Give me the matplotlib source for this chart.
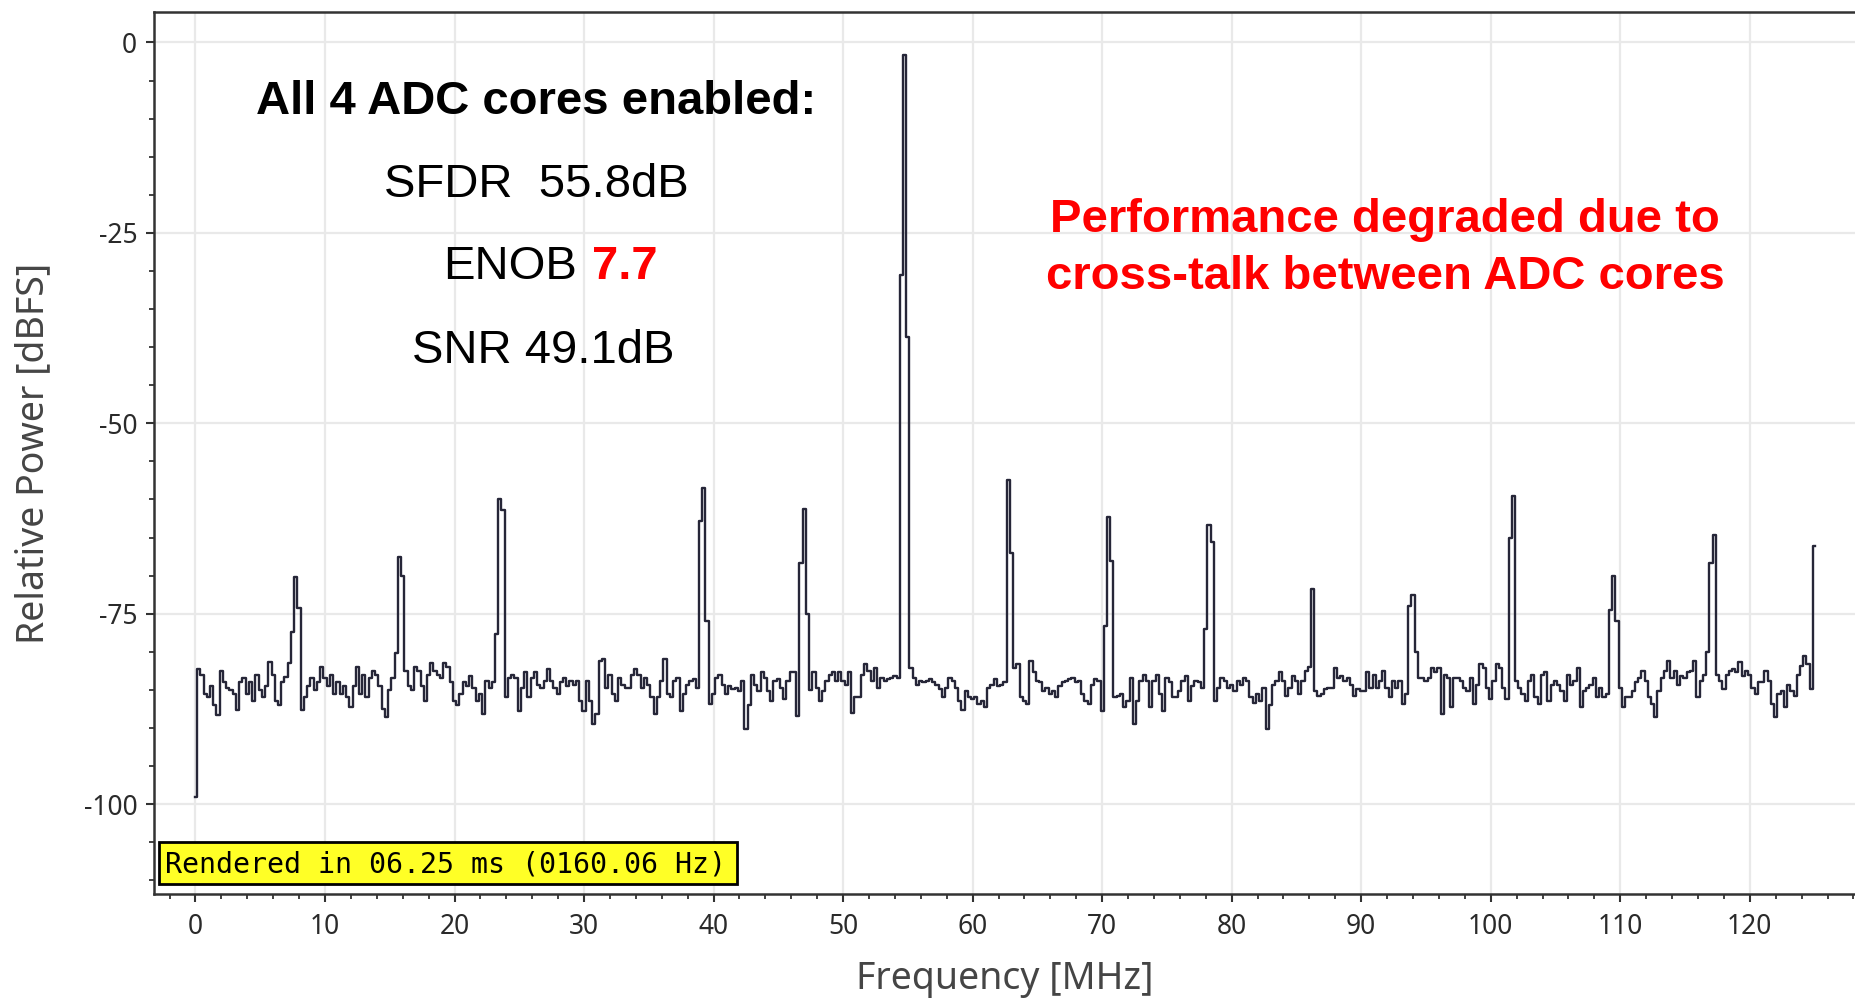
import numpy as np
import matplotlib.pyplot as plt
from matplotlib.patches import Rectangle
from matplotlib.ticker import MultipleLocator

plt.rcParams['axes.unicode_minus'] = False

# FFT bin spacing of the spectrum trace (MHz)
freq_step = 0.25

# relative power per bin [dBFS]
power_0_25 = [
    -99.0, -82.3, -83.0, -85.5, -86.0, -84.5, -87.0, -88.3, -82.5, -84.0,
    -84.8, -85.0, -85.6, -87.7, -84.0, -83.5, -85.5, -84.0, -86.5, -83.0,
    -85.0, -86.0, -84.5, -81.3, -83.0, -86.5, -87.0, -84.0, -83.3, -81.5,
    -77.4, -70.2, -74.2, -87.7, -86.0, -84.5, -83.5, -85.0, -84.0, -82.0,
    -83.5, -84.5, -83.0, -85.5, -84.0, -85.5, -84.5, -86.0, -87.3, -84.5,
    -82.0, -85.5, -83.0, -86.0, -83.5, -82.5, -83.0, -84.5, -87.5, -88.5,
    -85.0, -83.5, -80.1, -67.6, -70.0, -82.5, -84.5, -85.0, -82.0, -82.5,
    -84.5, -86.5, -83.0, -81.5, -82.5, -83.0, -83.5, -81.5, -82.0, -84.0,
    -86.5, -87.0, -85.5, -84.0, -84.5, -83.2, -84.7, -86.5, -85.6, -88.2,
    -83.8, -84.7, -84.0, -77.7, -59.9, -61.4, -86.0, -83.4, -83.0, -83.4,
]
power_25_50 = [
    -87.8, -84.7, -82.7, -86.0, -83.4, -82.7, -84.3, -84.7, -83.8, -82.3,
    -83.8, -84.7, -85.6, -84.0, -83.4, -84.5, -83.8, -84.3, -83.8, -86.5,
    -87.8, -83.8, -86.5, -89.5, -88.2, -81.2, -81.0, -84.7, -83.0, -85.6,
    -86.5, -83.4, -84.3, -84.7, -84.7, -83.0, -82.3, -83.0, -84.7, -83.4,
    -84.3, -86.0, -88.2, -86.0, -83.8, -81.0, -85.6, -86.0, -83.8, -83.4,
    -87.8, -85.6, -84.3, -83.8, -83.6, -84.7, -62.8, -58.5, -76.0, -86.9,
    -85.6, -83.4, -83.0, -84.3, -85.5, -84.5, -84.9, -84.7, -85.1, -83.8,
    -90.2, -87.0, -83.0, -84.3, -85.1, -82.7, -83.4, -85.1, -86.5, -83.8,
    -83.6, -84.7, -86.2, -83.8, -82.7, -82.7, -88.4, -68.3, -61.3, -75.0,
    -85.0, -82.7, -84.7, -86.5, -85.1, -83.8, -83.0, -82.7, -83.8, -82.7,
]
power_50_75 = [
    -83.8, -84.3, -82.7, -88.0, -86.0, -86.0, -83.0, -81.6, -82.5, -83.8,
    -82.1, -84.7, -83.4, -83.8, -83.6, -83.4, -83.2, -83.4, -30.5, -1.6,
    -38.7, -82.1, -83.4, -84.3, -83.8, -84.0, -83.8, -83.6, -84.0, -84.3,
    -84.9, -86.0, -84.7, -83.4, -83.8, -84.7, -86.5, -87.6, -85.1, -86.0,
    -86.2, -86.0, -86.9, -86.5, -87.3, -84.7, -84.3, -83.6, -84.5, -84.3,
    -84.0, -57.4, -67.0, -82.1, -81.6, -86.0, -86.5, -86.9, -81.2, -82.7,
    -83.8, -84.0, -85.1, -84.7, -85.6, -85.1, -86.0, -84.5, -84.0, -83.8,
    -83.6, -83.4, -84.0, -83.8, -85.6, -86.5, -86.9, -84.3, -83.6, -83.8,
    -87.8, -76.6, -62.3, -68.1, -86.0, -85.8, -85.6, -87.3, -86.5, -83.4,
    -89.5, -86.5, -83.8, -83.0, -83.8, -87.3, -83.8, -83.0, -85.6, -87.8,
]
power_75_100 = [
    -83.4, -84.0, -86.0, -86.0, -85.1, -83.8, -83.2, -86.5, -84.5, -83.8,
    -84.0, -84.7, -77.0, -63.3, -65.6, -86.5, -84.7, -83.4, -83.8, -84.7,
    -84.3, -85.1, -83.8, -84.3, -83.4, -83.8, -86.0, -86.7, -85.6, -86.5,
    -84.7, -90.2, -87.0, -84.3, -83.8, -82.7, -83.8, -85.8, -84.7, -83.2,
    -83.8, -85.6, -83.8, -82.5, -82.0, -71.7, -85.1, -85.8, -85.6, -84.9,
    -84.7, -84.7, -82.1, -83.4, -83.2, -83.8, -83.4, -84.3, -85.8, -84.9,
    -85.1, -85.1, -82.7, -84.7, -83.0, -84.7, -83.8, -82.5, -84.7, -86.0,
    -83.8, -84.7, -83.8, -86.9, -85.6, -74.0, -72.5, -80.0, -83.4, -83.4,
    -83.8, -83.4, -82.1, -82.7, -82.1, -88.2, -83.0, -83.4, -87.3, -83.4,
    -83.4, -83.8, -84.7, -85.1, -83.4, -86.9, -84.3, -81.6, -82.1, -84.7,
]
power_100_125 = [
    -86.2, -83.8, -81.6, -82.1, -84.7, -86.2, -65.1, -59.5, -83.8, -84.7,
    -85.6, -86.5, -83.8, -83.0, -86.0, -86.9, -83.0, -82.7, -86.5, -84.3,
    -83.8, -84.3, -85.1, -86.5, -83.0, -84.3, -83.8, -82.1, -87.3, -85.1,
    -84.7, -84.3, -83.4, -86.0, -84.7, -86.0, -85.6, -74.5, -70.0, -76.0,
    -84.7, -87.3, -86.0, -86.0, -85.1, -84.0, -83.4, -82.5, -83.8, -86.0,
    -86.9, -88.6, -85.1, -83.4, -82.5, -81.2, -83.4, -82.5, -84.3, -83.2,
    -83.4, -82.7, -82.5, -81.2, -86.0, -83.8, -83.0, -80.0, -68.4, -64.7,
    -83.0, -83.8, -84.9, -83.0, -82.5, -82.3, -82.7, -81.4, -83.2, -82.5,
    -83.0, -84.7, -85.6, -84.0, -84.0, -82.5, -83.8, -86.9, -88.6, -85.6,
    -85.1, -87.3, -84.3, -85.1, -85.8, -83.0, -81.9, -80.5, -81.6, -84.9,
    -66.1,
]

x_ticks = [0, 10, 20, 30, 40, 50, 60, 70, 80, 90, 100, 110, 120]
y_ticks = [0, -25, -50, -75, -100]
y_tick_labels = ['0', '-25', '-50', '-75', '-100']

power_db = np.array(power_0_25 + power_25_50 + power_50_75 + power_75_100 + power_100_125)
freq = np.arange(len(power_db)) * freq_step

W, H = 1856, 999
fig = plt.figure(figsize=(W / 100, H / 100), dpi=100)
ax = fig.add_axes([154 / W, 1 - 894 / H, 1 - 154 / W, (894 - 12) / H])

ax.plot(freq, power_db, color='#262638', lw=1.7, drawstyle='steps-mid', zorder=3)

ax.set_xlim(-3.2, 128.2)
ax.set_ylim(-111.8, 4)
ax.set_xticks(x_ticks)
ax.set_yticks(y_ticks)
ax.set_yticklabels(y_tick_labels)
ax.xaxis.set_minor_locator(MultipleLocator(2))
ax.yaxis.set_minor_locator(MultipleLocator(5))
ax.grid(True, which='major', color='#e9e9e9', lw=1.6, zorder=0)
ax.set_axisbelow(True)

for lab in ax.get_xticklabels() + ax.get_yticklabels():
    lab.set_family('Noto Sans')
    lab.set_fontsize(19)
    lab.set_color('#2a2a2a')
ax.tick_params(which='major', direction='out', length=6, width=1.5, color='#333333')
ax.tick_params(which='minor', direction='out', length=3.5, width=1.3, color='#333333')
ax.tick_params(axis='x', pad=8)
ax.tick_params(axis='y', pad=6)

for side in ['left', 'bottom', 'top']:
    ax.spines[side].set_linewidth(1.8)
    ax.spines[side].set_color('#333333')
ax.spines['right'].set_visible(False)

fig.text(1005 / W, 1 - 979 / H, 'Frequency [MHz]', ha='center', va='center',
         fontsize=27, family='Noto Sans', color='#454545')
fig.text(33 / W, 1 - 453 / H, 'Relative Power [dBFS]', ha='center', va='center',
         rotation=90, fontsize=27, family='Noto Sans', color='#454545')

# annotation block on the left
fig.text(536 / W, 1 - 114 / H, 'All 4 ADC cores enabled:', ha='center', va='baseline',
         fontsize=34, fontweight='bold', family='Liberation Sans', color='black')
fig.text(536 / W, 1 - 197 / H, 'SFDR  55.8dB', ha='center', va='baseline',
         fontsize=34, family='Liberation Sans', color='black')
fig.text(443 / W, 1 - 279 / H, 'ENOB', ha='left', va='baseline',
         fontsize=34, family='Liberation Sans', color='black')
fig.text(592 / W, 1 - 279 / H, '7.7', ha='left', va='baseline',
         fontsize=34, fontweight='bold', family='Liberation Sans', color='#ff0000')
fig.text(543 / W, 1 - 363 / H, 'SNR 49.1dB', ha='center', va='baseline',
         fontsize=34, family='Liberation Sans', color='black')

fig.text(1385 / W, 1 - 232 / H, 'Performance degraded due to', ha='center', va='baseline',
         fontsize=34, fontweight='bold', family='Liberation Sans', color='#ff0000')
fig.text(1385 / W, 1 - 289 / H, 'cross-talk between ADC cores', ha='center', va='baseline',
         fontsize=34, fontweight='bold', family='Liberation Sans', color='#ff0000')

# yellow render-time badge
fig.add_artist(Rectangle((159 / W, 1 - 884 / H), 578 / W, 42 / H, transform=fig.transFigure,
                         facecolor='#ffff26', edgecolor='black', lw=2, zorder=4))
fig.text(165 / W, 1 - 872 / H, 'Rendered in 06.25 ms (0160.06 Hz)', ha='left', va='baseline',
         fontsize=20.3, family='DejaVu Sans Mono', color='black', zorder=5)

fig.savefig('out.png', dpi=100)
